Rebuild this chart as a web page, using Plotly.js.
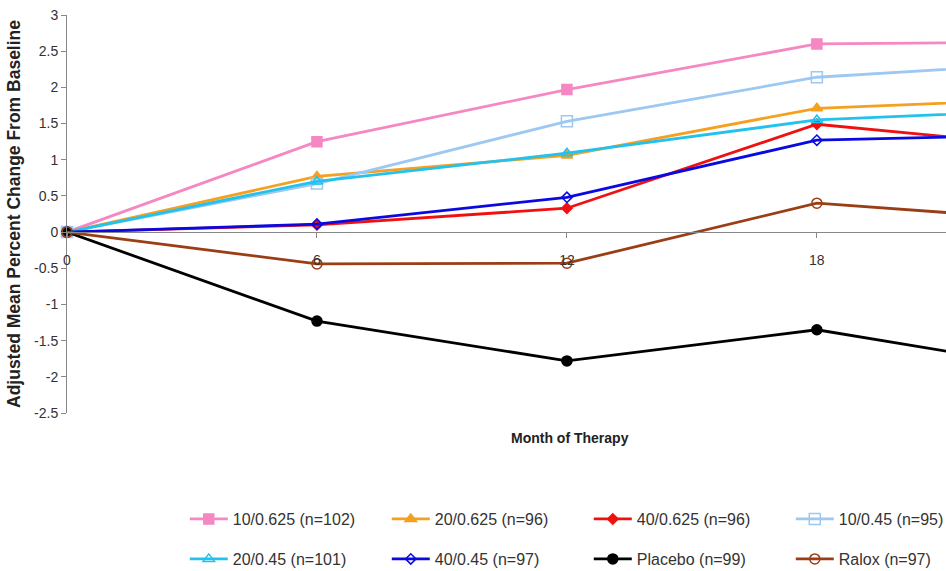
<!DOCTYPE html>
<html>
<head>
<meta charset="utf-8">
<script src="https://cdn.plot.ly/plotly-3.0.1.min.js"></script>
<style>html,body{margin:0;padding:0;background:#fff}#chart{width:946px;height:571px}</style>
</head>
<body>
<div id="chart"></div>
<script>
const months = [0, 6, 12, 18, 24];
const seriesNames = ["10/0.625 (n=102)", "20/0.625 (n=96)", "40/0.625 (n=96)", "10/0.45 (n=95)",
                     "20/0.45 (n=101)", "40/0.45 (n=97)", "Placebo (n=99)", "Ralox (n=97)"];
const s10_0625 = [0, 1.25, 1.97, 2.60, 2.63];
const s20_0625 = [0, 0.77, 1.06, 1.71, 1.85];
const s40_0625 = [0, 0.10, 0.33, 1.49, 1.16];
const s10_045  = [0, 0.67, 1.53, 2.14, 2.35];
const s20_045  = [0, 0.70, 1.09, 1.55, 1.70];
const s40_045  = [0, 0.11, 0.48, 1.27, 1.35];
const placebo  = [0, -1.23, -1.78, -1.35, -1.92];
const ralox    = [0, -0.44, -0.43, 0.40, 0.15];
const xTickVals = [0, 6, 12, 18, 24];
const xTickText = ["0", "6", "12", "18", "24"];
const yTickVals = [3, 2.5, 2, 1.5, 1, 0.5, 0, -0.5, -1, -1.5, -2, -2.5];
const yTickText = ["3", "2.5", "2", "1.5", "1", "0.5", "0", "-0.5", "-1", "-1.5", "-2", "-2.5"];

const values = [s10_0625, s20_0625, s40_0625, s10_045, s20_045, s40_045, placebo, ralox];
const colors = ["#F587C3", "#F5A01E", "#F01010", "#9CC8F2", "#22C2EE", "#0A0AE0", "#000000", "#9A3E16"];
const symbols = ["square", "triangle-up", "diamond", "square-open", "triangle-up-open", "diamond-open", "circle", "circle-open"];
const sizes = [10, 10, 8, 11, 10, 8, 10, 10];

const traces = values.map((v, i) => ({
  x: months, y: v, name: seriesNames[i], type: "scatter", mode: "lines+markers",
  line: {color: colors[i], width: 2.8},
  marker: {color: colors[i], symbol: symbols[i], size: sizes[i], line: {color: colors[i], width: 1.5}},
  cliponaxis: false,
  legend: i < 4 ? "legend" : "legend2"
}));

const legendCommon = {
  orientation: "h", xanchor: "left", yanchor: "middle", x: 0.134,
  font: {family: "Liberation Sans, Arial, sans-serif", size: 16, color: "#333"},
  itemwidth: 38, entrywidth: 149, entrywidthmode: "pixels", bgcolor: "rgba(0,0,0,0)",
  borderwidth: 0, tracegroupgap: 0
};

const layout = {
  width: 946, height: 571,
  margin: {l: 67, r: 0, t: 15, b: 158, autoexpand: false},
  paper_bgcolor: "#fff", plot_bgcolor: "#fff",
  font: {family: "Liberation Sans, Arial, sans-serif", color: "#333"},
  showlegend: true,
  xaxis: {
    range: [0, 21.1], anchor: "free", position: 2.5 / 5.5,
    tickvals: xTickVals, ticktext: xTickText, ticks: "outside", ticklen: 5, tickcolor: "#888",
    showline: true, linecolor: "#888", linewidth: 1, showgrid: false, zeroline: false,
    tickfont: {size: 14, color: "#333"}, ticklabelstandoff: 10, fixedrange: true
  },
  yaxis: {
    range: [-2.5, 3], tickvals: yTickVals, ticktext: yTickText, ticks: "outside", ticklen: 5, tickcolor: "#888",
    showline: true, linecolor: "#888", linewidth: 1, showgrid: false, zeroline: false,
    tickfont: {size: 14, color: "#333"},
    title: {text: "<b>Adjusted Mean Percent Change From Baseline</b>", font: {size: 17.5, color: "#222"}, standoff: 8}
  },
  annotations: [{
    text: "<b>Month of Therapy</b>", xref: "paper", yref: "paper", x: (570 - 67) / 879, y: -(438 - 413) / 398,
    xanchor: "center", yanchor: "middle", showarrow: false, font: {size: 14, color: "#222"}
  }],
  legend: Object.assign({}, legendCommon, {y: -(519 - 413) / 398}),
  legend2: Object.assign({}, legendCommon, {y: -(559 - 413) / 398})
};

Plotly.newPlot("chart", traces, layout, {displayModeBar: false, staticPlot: true});
</script>
</body>
</html>
